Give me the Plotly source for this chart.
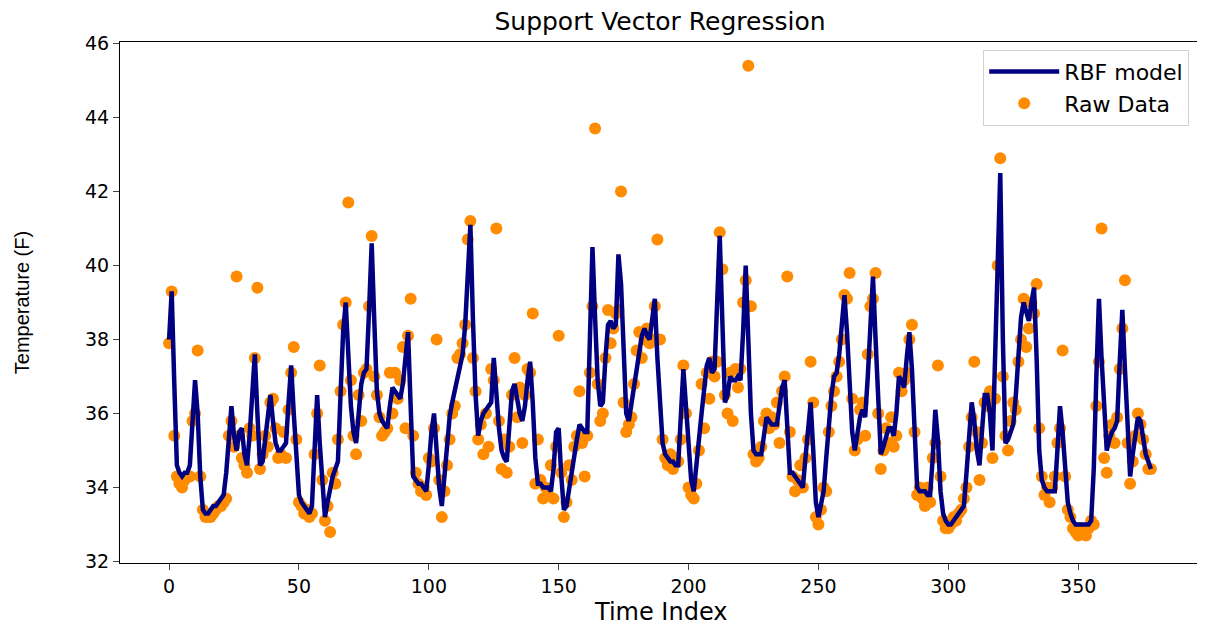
import plotly.graph_objects as go

# RBF model prediction, one value per time index
model_temp = [
    38.0, 39.3, 36.8, 34.6, 34.4, 34.3, 34.4, 34.4, 34.6, 35.6,
    36.9, 36.0, 34.3, 33.4, 33.3, 33.3, 33.4, 33.5, 33.5, 33.6,
    33.7, 33.8, 34.4, 35.4, 36.2, 35.4, 35.0, 35.5, 35.6, 34.9,
    34.6, 35.4, 36.6, 37.6, 36.0, 34.6, 34.7, 35.3, 36.0, 36.5,
    35.8, 35.2, 35.0, 35.0, 35.1, 35.2, 36.3, 37.3, 36.0, 34.6,
    33.8, 33.6, 33.5, 33.4, 33.3, 33.5, 35.0, 36.5, 35.2, 34.2,
    33.2, 33.6, 34.0, 34.3, 34.5, 34.7, 36.5, 38.2, 39.0, 37.6,
    36.2, 35.5, 35.2, 36.0, 36.8, 37.1, 37.2, 38.8, 40.6, 38.5,
    36.6, 36.0, 35.8, 35.7, 35.6, 36.2, 36.7, 36.6, 36.5, 36.4,
    36.8, 37.6, 38.2, 36.2, 34.3, 34.2, 34.1, 34.1, 34.0, 33.9,
    34.6, 35.5, 36.0, 35.0, 34.0, 33.5, 34.3, 35.3, 35.9, 36.3,
    36.6, 36.9, 37.2, 37.6, 38.4, 39.8, 41.1, 38.5, 36.5, 35.4,
    35.8, 36.0, 36.1, 36.2, 36.3, 37.5, 36.4, 35.6, 35.0, 34.8,
    34.7, 35.6, 36.6, 36.8, 36.4, 36.0, 35.8, 36.2, 36.9, 37.4,
    36.3, 34.8, 34.1, 34.1, 34.0, 34.0, 34.0, 33.9, 34.5, 35.5,
    35.6, 34.3, 33.4, 33.5, 34.0, 34.5, 34.8, 35.3, 35.7, 35.6,
    35.5, 35.5, 37.8, 40.5, 38.6, 36.9, 36.2, 36.3, 37.5, 38.4,
    38.5, 38.3, 38.4, 40.3, 39.5, 37.3, 36.0, 35.8, 36.3, 36.7,
    37.2, 37.7, 38.1, 38.3, 38.1, 38.0, 38.5, 39.1, 37.5, 36.2,
    35.2, 34.9, 34.8, 34.7, 34.7, 34.6, 34.6, 35.8, 37.2, 36.2,
    35.0, 34.2, 33.9, 34.5, 35.3, 36.0, 36.7, 37.3, 37.5, 37.1,
    37.2, 39.0, 40.8, 38.5, 36.3, 36.5, 37.0, 36.9, 36.9, 37.0,
    36.9, 38.2, 40.0, 38.0, 36.0, 35.0, 34.9, 34.9, 34.9, 35.4,
    35.9, 35.8, 35.7, 35.7, 35.7, 36.2, 36.7, 36.9, 35.5, 34.4,
    34.4, 34.3, 34.2, 34.1, 34.0, 34.8, 35.7, 36.3, 35.0, 33.6,
    33.2, 33.6, 33.9, 34.8, 35.7, 36.5, 37.0, 37.1, 37.6, 38.6,
    39.2, 38.2, 36.5, 35.5, 35.0, 35.4, 35.9, 36.1, 35.9, 37.0,
    38.6, 39.7, 38.0, 36.2, 34.9, 35.1, 35.4, 35.6, 35.6, 35.4,
    36.0, 37.0, 36.9, 36.7, 37.5, 38.2, 37.2, 35.3, 34.0, 33.9,
    33.9, 33.9, 33.8, 33.8, 34.8, 36.1, 35.3, 33.9, 33.3, 33.1,
    33.0, 33.0, 33.1, 33.2, 33.3, 33.4, 33.5, 34.4, 35.5, 36.3,
    35.8, 35.0, 34.6, 35.6, 36.5, 36.5, 36.0, 35.0, 37.5, 40.5,
    42.5, 38.0, 35.2, 35.3, 35.5, 35.7, 36.5, 37.6, 38.6, 39.0,
    38.7, 38.5, 39.0, 39.4, 37.5, 35.0, 34.2, 34.0, 33.9, 33.9,
    33.9, 33.9, 35.0, 36.2, 35.5, 34.3, 33.6, 33.3, 33.1, 33.0,
    33.0, 33.0, 33.0, 33.0, 33.0, 33.1, 34.5, 37.0, 39.1, 37.5,
    36.0, 35.0, 35.3, 35.5, 35.6, 35.8, 37.4, 38.8, 37.2, 35.6,
    34.3, 34.9, 35.5, 35.9, 35.8, 35.3, 34.9, 34.7, 34.5,
]

# raw temperature readings
raw_temp = [
    37.9, 39.3, 35.4, 34.3, 34.1, 34.0, 34.2, 34.3, 34.3, 35.8,
    36.0, 37.7, 34.3, 33.4, 33.2, 33.2, 33.2, 33.3, 33.4, 33.5,
    33.5, 33.6, 33.7, 35.4, 35.8, 35.1, 39.7, 35.4, 34.8, 34.6,
    34.4, 35.6, 35.4, 37.5, 39.4, 34.5, 34.9, 35.4, 35.1, 36.3,
    36.4, 35.6, 34.8, 34.9, 35.5, 34.8, 36.1, 37.1, 37.8, 35.3,
    33.6, 33.5, 33.3, 33.4, 33.2, 33.3, 34.9, 36.0, 37.3, 34.2,
    33.1, 33.5, 32.8, 34.4, 34.1, 35.3, 36.6, 38.4, 39.0, 41.7,
    36.9, 35.4, 34.9, 36.5, 35.8, 37.1, 37.2, 38.9, 40.8, 37.0,
    36.5, 35.9, 35.4, 35.5, 35.6, 37.1, 36.0, 37.1, 36.4, 36.9,
    37.8, 35.6, 38.1, 39.1, 35.4, 34.4, 34.1, 33.9, 34.0, 33.8,
    34.8, 34.7, 35.6, 38.0, 34.2, 33.2, 33.9, 34.6, 35.3, 36.0,
    36.2, 37.5, 37.6, 37.9, 38.4, 40.7, 41.2, 37.5, 36.6, 35.3,
    35.7, 34.9, 36.0, 35.1, 37.2, 36.9, 41.0, 35.8, 34.5, 35.3,
    34.4, 35.1, 36.5, 37.5, 35.9, 36.7, 35.2, 36.5, 37.2, 37.1,
    38.7, 34.1, 35.3, 34.2, 33.7, 34.0, 33.8, 34.6, 33.7, 35.1,
    38.1, 34.4, 33.2, 33.6, 34.6, 34.2, 35.1, 35.4, 36.6, 35.2,
    34.3, 35.4, 37.1, 38.9, 43.7, 36.8, 35.8, 36.0, 37.5, 38.8,
    37.9, 38.3, 38.7, 38.8, 42.0, 36.3, 35.5, 35.7, 35.9, 36.8,
    37.7, 38.2, 37.5, 38.0, 38.3, 37.9, 38.0, 38.9, 40.7, 38.0,
    35.3, 34.8, 34.6, 34.9, 34.5, 34.8, 34.7, 35.3, 37.3, 36.0,
    34.0, 33.8, 33.7, 34.1, 35.0, 36.8, 35.6, 37.1, 36.4, 37.4,
    37.0, 37.4, 40.9, 39.9, 36.5, 36.0, 37.1, 35.8, 37.2, 36.7,
    37.2, 39.0, 39.6, 45.4, 38.9, 34.9, 34.7, 34.8, 35.1, 35.8,
    36.0, 35.6, 35.9, 35.7, 36.3, 35.2, 36.6, 37.0, 39.7, 35.5,
    34.3, 33.9, 34.2, 34.6, 34.0, 34.8, 35.3, 37.4, 36.3, 33.2,
    33.0, 33.4, 34.0, 33.9, 35.5, 36.2, 36.6, 37.0, 37.4, 38.0,
    39.2, 39.1, 39.8, 36.4, 35.0, 35.3, 36.1, 36.3, 35.4, 37.6,
    38.9, 39.1, 39.8, 36.0, 34.5, 35.0, 35.6, 35.2, 35.9, 35.1,
    35.4, 37.1, 36.6, 36.9, 37.1, 38.0, 38.4, 35.5, 33.8, 34.0,
    33.7, 33.5, 34.0, 33.6, 34.8, 35.2, 37.3, 34.3, 33.1, 32.9,
    32.9, 33.0, 33.2, 33.1, 33.3, 33.4, 33.7, 34.0, 35.1, 35.9,
    37.4, 35.5, 34.2, 35.2, 36.3, 36.2, 36.6, 34.8, 36.4, 40.0,
    42.9, 37.0, 35.4, 35.0, 35.8, 36.3, 36.1, 37.4, 38.0, 39.1,
    37.8, 38.3, 39.0, 38.7, 39.5, 35.6, 34.3, 33.8, 34.0, 33.6,
    34.0, 34.3, 35.2, 35.6, 37.7, 34.3, 33.4, 33.2, 32.9, 32.8,
    32.7, 32.9, 32.8, 32.7, 32.9, 33.1, 33.0, 36.2, 37.4, 41.0,
    34.8, 34.4, 35.4, 35.7, 35.2, 35.9, 37.2, 38.3, 39.6, 35.2,
    34.1, 34.7, 35.4, 36.0, 35.7, 35.3, 34.9, 34.5, 34.5,
]

time_index = list(range(len(raw_temp)))
y_ticks = [32, 34, 36, 38, 40, 42, 44, 46]
x_ticks = [0, 50, 100, 150, 200, 250, 300, 350]

fig = go.Figure()

# dots first so the line is drawn on top of them
fig.add_trace(go.Scatter(
    x=time_index, y=raw_temp, mode="markers", name="Raw Data",
    marker=dict(color="darkorange", size=12, line=dict(width=0)),
    legendrank=2,
))
fig.add_trace(go.Scatter(
    x=time_index, y=model_temp, mode="lines", name="RBF model",
    line=dict(color="navy", width=4.5),
    legendrank=1,
))

# page body has an 8px margin, so the figure is a bit smaller than the window
fig.update_layout(
    width=1197, height=617,
    template="simple_white",
    paper_bgcolor="white", plot_bgcolor="white",
    margin=dict(l=112, r=5, t=34, b=62, autoexpand=False),
    font=dict(family="DejaVu Sans", size=19, color="black"),
    title=dict(text="Support Vector Regression", x=0.5, xanchor="center",
               xref="paper", yref="container", y=0.978, yanchor="middle",
               font=dict(family="DejaVu Sans", size=25, color="black")),
    legend=dict(x=0.99, y=0.985, xanchor="right", yanchor="top",
                bgcolor="rgba(255,255,255,0.9)", bordercolor="#d0d0d0",
                borderwidth=1, font=dict(size=22, family="DejaVu Sans"),
                itemwidth=70, tracegroupgap=0),
    showlegend=True,
    annotations=[
        dict(text="Time Index", xref="paper", yref="paper", x=0.5, y=-0.094,
             xanchor="center", yanchor="middle", showarrow=False,
             font=dict(size=24, family="DejaVu Sans")),
        dict(text="Temperature (F)", xref="paper", yref="paper", x=-0.091, y=0.5,
             xanchor="center", yanchor="middle", showarrow=False, textangle=-90,
             font=dict(size=20, family="Liberation Sans Narrow, Liberation Sans")),
    ],
)

fig.update_xaxes(
    range=[-18.9, 396.9], tickvals=x_ticks, ticks="outside", ticklen=6,
    showline=True, mirror=True, linecolor="black", linewidth=1,
    showgrid=False, zeroline=False, automargin=False,
)
fig.update_yaxes(
    range=[31.96, 46.04], tickvals=y_ticks, ticks="outside", ticklen=6,
    showline=True, mirror=True, linecolor="black", linewidth=1,
    showgrid=False, zeroline=False, automargin=False,
)

fig.write_html("out.html")
